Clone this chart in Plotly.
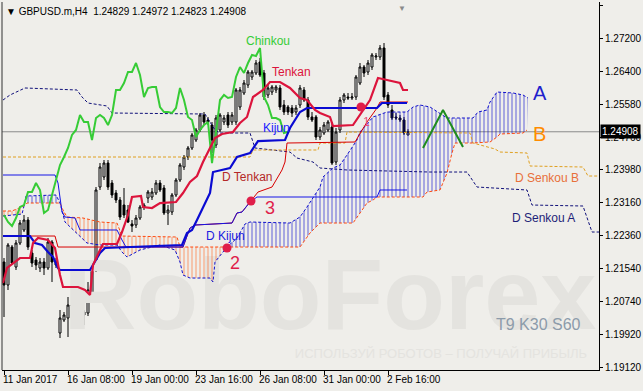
import plotly.graph_objects as go

# ---------------- data (GBPUSD.m H4) ----------------
bar_index = list(range(102))
opens = [1.21711,1.21146,1.22079,1.21588,1.22177,1.22497,1.22742,1.21932,1.21760,1.21564,
         1.21711,1.21564,1.22202,1.21711,1.19968,1.20287,1.20336,1.20631,1.20582,1.20729,
         1.20483,1.20459,1.20901,1.21515,1.23552,1.23798,1.24141,1.23650,1.23405,1.23233,
         1.23110,1.22988,1.22644,1.22619,1.22791,1.23061,1.23282,1.23307,1.23405,1.23650,
         1.23528,1.22914,1.22938,1.23356,1.23724,1.24043,1.24289,1.24510,1.24706,1.24952,
         1.25320,1.25197,1.25074,1.24583,1.24952,1.25148,1.25320,1.25148,1.25148,1.25516,
         1.25860,1.26056,1.26253,1.26351,1.26621,1.26351,1.25811,1.25884,1.25934,1.25983,
         1.25565,1.25516,1.25492,1.25393,1.25565,1.25934,1.25688,1.25271,1.25271,1.24780,
         1.24878,1.24952,1.25025,1.24166,1.24952,1.25688,1.25762,1.25737,1.25762,1.26105,
         1.26498,1.26375,1.26498,1.26744,1.26744,1.26965,1.25811,1.25443,1.25271,1.25246,
         1.25197,1.24829]
highs = [1.21809,1.22177,1.22128,1.22251,1.22742,1.22865,1.22816,1.22006,1.21834,1.21809,
         1.21809,1.22300,1.22251,1.21809,1.20533,1.20483,1.20852,1.20778,1.20827,1.20778,
         1.20533,1.21220,1.21711,1.23552,1.24141,1.24215,1.24215,1.23724,1.23479,1.23307,
         1.23528,1.23110,1.22742,1.22865,1.23110,1.23159,1.23479,1.23528,1.23724,1.23724,
         1.23601,1.23110,1.23405,1.23773,1.24141,1.24338,1.24559,1.24878,1.25001,1.25369,
         1.25393,1.25271,1.25148,1.25320,1.25369,1.25320,1.25393,1.25393,1.25983,1.26007,
         1.26179,1.26425,1.26425,1.26670,1.26719,1.26425,1.26056,1.26056,1.26056,1.26056,
         1.25688,1.25565,1.25565,1.25565,1.26056,1.26007,1.25762,1.25393,1.25320,1.25025,
         1.25148,1.25197,1.25148,1.25001,1.25762,1.25860,1.25860,1.25860,1.26302,1.26596,
         1.26547,1.26670,1.26842,1.26842,1.27038,1.27087,1.25884,1.25565,1.25369,1.25320,
         1.25271,1.24972]
lows = [1.20361,1.21024,1.21637,1.21515,1.22128,1.22447,1.22006,1.21588,1.21515,1.21465,
        1.21392,1.21515,1.21220,1.21564,1.19845,1.20238,1.19870,1.20533,1.20483,1.20336,
        1.20164,1.20385,1.20778,1.21465,1.23479,1.23724,1.23479,1.23282,1.23159,1.22742,
        1.22791,1.22668,1.22447,1.22546,1.22742,1.22988,1.23159,1.23233,1.23356,1.23429,
        1.22865,1.22619,1.22865,1.23307,1.23675,1.23970,1.24215,1.24461,1.24657,1.24902,
        1.25074,1.25074,1.24387,1.24510,1.24902,1.25074,1.25001,1.25074,1.25074,1.25443,
        1.25811,1.25983,1.26179,1.26302,1.26253,1.25688,1.25737,1.25811,1.25860,1.25443,
        1.25320,1.25320,1.25271,1.25320,1.25492,1.25639,1.25197,1.25148,1.24706,1.24706,
        1.24829,1.24902,1.24092,1.24092,1.24878,1.25614,1.25688,1.25688,1.25688,1.26056,
        1.26253,1.26302,1.26425,1.26670,1.26670,1.25688,1.25492,1.25197,1.25197,1.25148,
        1.24829,1.24823]
closes = [1.21146,1.22128,1.21686,1.22177,1.22668,1.22742,1.22079,1.21686,1.21637,1.21711,
          1.21564,1.22202,1.21711,1.21637,1.20336,1.20410,1.20655,1.20655,1.20729,1.20410,
          1.20410,1.21024,1.21637,1.23479,1.24043,1.24141,1.23552,1.23356,1.23233,1.22816,
          1.22865,1.22693,1.22595,1.22791,1.23061,1.23110,1.23429,1.23429,1.23650,1.23479,
          1.22914,1.22988,1.23356,1.23724,1.24092,1.24289,1.24510,1.24829,1.24952,1.25320,
          1.25148,1.25148,1.24706,1.25246,1.25320,1.25246,1.25074,1.25320,1.25934,1.25934,
          1.26105,1.26375,1.26375,1.26596,1.26302,1.25762,1.25983,1.26007,1.26007,1.25516,
          1.25393,1.25393,1.25369,1.25492,1.25983,1.25688,1.25271,1.25197,1.24780,1.24952,
          1.25074,1.25148,1.24141,1.24902,1.25688,1.25811,1.25737,1.25762,1.26253,1.26498,
          1.26351,1.26596,1.26793,1.26768,1.26965,1.25762,1.25565,1.25246,1.25246,1.25197,
          1.24878,1.24908]

tick_bars = [0, 16, 32, 48, 64, 80, 96]
tick_labels = ["11 Jan 2017", "16 Jan 08:00", "19 Jan 00:00", "23 Jan 16:00",
               "26 Jan 08:00", "31 Jan 00:00", "2 Feb 16:00"]
price_ticks = [1.28020, 1.27200, 1.26400, 1.25580, 1.24760, 1.23980,
               1.23160, 1.22360, 1.21540, 1.20740, 1.19920, 1.19120]

tenkan_x = [-0.25,0.75,4,6.5,7.25,8.5,11,12.75,14,14.75,18.5,20.25,21.5,22.25,24,24.75,28.25,29.5,31,32,
            34.25,34.75,37,39,43,44.75,46.5,48.25,49.75,51.5,52.75,54.5,57.25,59,60.75,62.25,64.75,66.5,69,71.5,
            74,75.75,77.75,79,81.5,82.25,87.25,91.5,93.5,95.75,99,99.75,101]
tenkan_y = [1.21195,1.21564,1.21809,1.21809,1.22177,1.22300,1.22251,1.22055,1.21392,1.21097,1.21097,1.21024,1.20901,1.21637,1.22006,1.22153,1.22153,1.22447,1.22865,1.23307,
            1.23331,1.23061,1.23037,1.23159,1.23184,1.23405,1.23675,1.23822,1.24166,1.24510,1.24755,1.24853,1.24902,1.25123,1.25271,1.25762,1.25934,1.26130,1.26130,1.25983,
            1.25737,1.25688,1.25443,1.25369,1.25271,1.25050,1.25074,1.25688,1.26228,1.26179,1.26105,1.25934,1.25934]

kijun_x = [-0.25,6.5,7.75,9.5,11,12.25,13.5,14,21.5,22.75,24,25.25,44.5,45.75,47,48.25,49.75,51.5,52.25,56.5,
           58.25,61.5,63.5,70.25,71.5,74,75.75,93.25,94.5,100.75]
kijun_y = [1.22349,1.22349,1.22177,1.22128,1.21956,1.21834,1.21564,1.21515,1.21515,1.21711,1.21932,1.22055,1.22128,1.22423,1.22497,1.22742,1.23061,1.23405,1.23920,1.24019,
           1.24289,1.24387,1.24681,1.24706,1.25001,1.25393,1.25492,1.25492,1.25614,1.25614]

d_tenkan_x = [-0.25,12.75,13.5,44.75,46.5,47.75,57,58.25,59.5,61.5,63.5,67,69.5,70.25,70.75,87.75,90.75,93.25,94,101]
d_tenkan_y = [1.22349,1.22349,1.22079,1.22079,1.22546,1.22619,1.22668,1.22914,1.22938,1.23184,1.23429,1.23552,1.23970,1.24166,1.24632,1.24657,1.25148,1.25492,1.25639,1.25639]

d_kijun_x = [-0.25,12.75,13.5,14.5,15.25,17.75,19,28.25,29.5,30.5,44.75,46.5,47.75,57,58.25,59.5,61.5,63.25,93.25,94,100.75]
d_kijun_y = [1.23847,1.23847,1.23650,1.22938,1.22816,1.22791,1.22497,1.22497,1.22251,1.22079,1.22079,1.22546,1.22619,1.22668,1.22914,1.22938,1.23184,1.23307,1.23307,1.23479,1.23479]

d_senkou_a_x = [-0.25,1.5,5.25,18.25,19.5,21,25.75,27,50.25,52.75,54,61.5,62.75,66.5,71.5,73.25,77.25,79,85.75,106.5,
                115.75,118.25,130.75,132,144.75,147,149]
d_senkou_a_y = [1.25688,1.25811,1.25983,1.25934,1.25762,1.25614,1.25541,1.25369,1.25344,1.24952,1.24878,1.24878,1.24510,1.24461,1.24411,1.24264,1.24166,1.24019,1.23970,1.23920,
                1.23920,1.23552,1.23479,1.23110,1.23086,1.22447,1.22447]

d_senkou_b_x = [-0.25,61.5,62.25,78.5,79,85.25,85.75,116.5,117.25,122.75,124,130.75,131.5,144.75,146,149]
d_senkou_b_y = [1.24289,1.24289,1.24461,1.24461,1.24632,1.24632,1.24902,1.24878,1.24632,1.24485,1.24411,1.24387,1.24068,1.24043,1.23822,1.23822]

senkou_a_x = [-0.25,4.5,5,5.5,13,14,15.25,17.75,20.75,24,28.25,29.5,30.75,34,39,42.75,44,44.75,46.5,51.5,
              52.25,52.75,55.75,58.25,60.25,61.5,71.5,74,75.75,79,79.75,82.25,84,85.75,88.25,89,92.25,95.75,100.75,102.25,
              104,106.5,110.75,117.25,118.5,120.75,121.5,123.25,127.25,129.75,131]
senkou_a_y = [1.22840,1.22889,1.23086,1.23331,1.23356,1.23159,1.22693,1.22447,1.22177,1.22128,1.22128,1.21956,1.21834,1.22006,1.22128,1.22006,1.21711,1.21392,1.21318,1.21318,
              1.21220,1.21711,1.22079,1.22300,1.22644,1.22693,1.22668,1.22816,1.23061,1.23552,1.23798,1.24019,1.24092,1.24338,1.24706,1.24902,1.25271,1.25393,1.25393,1.25516,
              1.25565,1.25516,1.25246,1.25246,1.25393,1.25443,1.25639,1.25884,1.25860,1.25811,1.25737]

senkou_b_x = [-0.25,2,5,5.75,14,14.75,15.75,19.75,24,28.25,29.5,43.25,44,55.75,74,76.5,79,87.25,89,90.75,
              92.25,93.25,104.75,105.75,109,110.75,112,112.75,117,121.5,123.25,124,129.75,130.75]
senkou_b_y = [1.22963,1.22963,1.23086,1.23159,1.23159,1.22988,1.22816,1.22791,1.22693,1.22668,1.22349,1.22325,1.22079,1.22079,1.22079,1.22423,1.22668,1.22668,1.22914,1.23159,
              1.23233,1.23307,1.23307,1.23429,1.23479,1.23896,1.24387,1.24632,1.24632,1.24657,1.24780,1.24853,1.24878,1.24952]

# kumo segments: (from bar, to bar, colour of hatching)
kumo_segments = [(-0.25, 5, "#FF6A2A"), (5, 14, "#1010CC"), (14, 55.75, "#FF6A2A"), (55.75, 131, "#1010CC")]

chinkou_shift = 30
signal_x = [89.25, 55.75, 61.75]
signal_y = [1.25516, 1.22055, 1.23208]
pattern_x = [104.75, 109.75, 114.75]
pattern_y = [1.24510, 1.25443, 1.24534]

FONT = "Liberation Sans, Arial, sans-serif"
BG = "#EFEEEA"

fig = go.Figure()

# watermark
fig.add_trace(go.Scatter(x=[81.5], y=[1.20692], mode="text", text=["<b>RoboForex</b>"],
                         textfont=dict(size=101, color="#E4E3DF", family=FONT),
                         hoverinfo="skip", showlegend=False))
fig.add_trace(go.Scatter(x=[109.25], y=[1.19428], mode="text",
                         text=["ИСПОЛЬЗУЙ РОБОТОВ – ПОЛУЧАЙ ПРИБЫЛЬ"],
                         textfont=dict(size=13, color="#E4E3DF", family=FONT),
                         hoverinfo="skip", showlegend=False))


def sub(xs, ys, a, b):
    px, py = [], []
    for x, y in zip(xs, ys):
        if a <= x <= b:
            px.append(x)
            py.append(y)
    return px, py


# kumo hatching
for a, b, col in kumo_segments:
    bx, by = sub(senkou_b_x, senkou_b_y, a, b)
    ax_, ay = sub(senkou_a_x, senkou_a_y, a, b)
    fig.add_trace(go.Scatter(x=bx, y=by, mode="lines", line=dict(width=0),
                             hoverinfo="skip", showlegend=False))
    fig.add_trace(go.Scatter(x=ax_, y=ay, mode="lines", line=dict(width=0),
                             fill="tonexty", fillcolor="rgba(0,0,0,0)",
                             fillpattern=dict(shape="|", fgcolor=col, bgcolor="rgba(0,0,0,0)",
                                              size=4, solidity=0.25, fgopacity=0.65),
                             hoverinfo="skip", showlegend=False))

# daily cloud lines
fig.add_trace(go.Scatter(x=d_senkou_a_x, y=d_senkou_a_y, mode="lines",
                         line=dict(color="#10107A", width=1, dash="3px,2px"),
                         hoverinfo="skip", showlegend=False))
fig.add_trace(go.Scatter(x=d_senkou_b_x, y=d_senkou_b_y, mode="lines",
                         line=dict(color="#E0A020", width=1, dash="3px,2px"),
                         hoverinfo="skip", showlegend=False))
# H4 senkou lines
fig.add_trace(go.Scatter(x=senkou_a_x, y=senkou_a_y, mode="lines",
                         line=dict(color="#1010CC", width=1, dash="3px,2px"),
                         hoverinfo="skip", showlegend=False))
fig.add_trace(go.Scatter(x=senkou_b_x, y=senkou_b_y, mode="lines",
                         line=dict(color="#FF4A10", width=1, dash="3px,2px"),
                         hoverinfo="skip", showlegend=False))
# daily tenkan / kijun
fig.add_trace(go.Scatter(x=d_tenkan_x, y=d_tenkan_y, mode="lines",
                         line=dict(color="#D80000", width=1),
                         hoverinfo="skip", showlegend=False))
fig.add_trace(go.Scatter(x=d_kijun_x, y=d_kijun_y, mode="lines",
                         line=dict(color="#1414E6", width=1),
                         hoverinfo="skip", showlegend=False))

# candles
fig.add_trace(go.Candlestick(x=bar_index, open=opens, high=highs, low=lows, close=closes,
                             increasing=dict(line=dict(color="black", width=1), fillcolor="white"),
                             decreasing=dict(line=dict(color="black", width=1), fillcolor="black"),
                             whiskerwidth=0, hoverinfo="skip", showlegend=False))

# chinkou = close shifted back
chinkou_x = [i - chinkou_shift for i in bar_index if i >= chinkou_shift]
chinkou_y = [c for i, c in zip(bar_index, closes) if i >= chinkou_shift]
fig.add_trace(go.Scatter(x=chinkou_x, y=chinkou_y, mode="lines",
                         line=dict(color="#36CC36", width=2),
                         hoverinfo="skip", showlegend=False))
fig.add_trace(go.Scatter(x=kijun_x, y=kijun_y, mode="lines",
                         line=dict(color="#0A0AD2", width=2.2),
                         hoverinfo="skip", showlegend=False))
fig.add_trace(go.Scatter(x=tenkan_x, y=tenkan_y, mode="lines",
                         line=dict(color="#DC143C", width=2.2),
                         hoverinfo="skip", showlegend=False))

# analyst drawing and signal points
fig.add_trace(go.Scatter(x=pattern_x, y=pattern_y, mode="lines",
                         line=dict(color="#1E8C1E", width=2),
                         hoverinfo="skip", showlegend=False))
fig.add_trace(go.Scatter(x=signal_x, y=signal_y, mode="markers",
                         marker=dict(color="#E01E4A", size=9),
                         hoverinfo="skip", showlegend=False))

last = closes[-1]
fig.add_shape(type="line", xref="paper", x0=0, x1=1, yref="y", y0=last, y1=last,
              line=dict(color="#8A8A8A", width=1), layer="below")
fig.add_shape(type="line", xref="paper", x0=0, x1=0, yref="paper", y0=0, y1=1,
              line=dict(color="#333333", width=1))

ann = []


def label(x, y, text, color, size):
    ann.append(dict(x=x, y=y, xref="x", yref="y", text=text, showarrow=False,
                    font=dict(color=color, size=size, family=FONT)))


label(66, 1.27137, "Chinkou", "#36CC36", 12)
label(71.75, 1.26375, "Tenkan", "#DC143C", 12)
label(68, 1.25001, "Kijun", "#2020FF", 12)
label(60.75, 1.23798, "D Tenkan", "#B42828", 12)
label(55.25, 1.22349, "D Kijun", "#2020E0", 12)
label(90.5, 1.25148, "1", "#E8507A", 12)
label(57.75, 1.21686, "2", "#E01E4A", 18)
label(66.5, 1.23037, "3", "#E01E4A", 18)
label(134, 1.25860, "A", "#1E1ECD", 20)
label(133.75, 1.24853, "B", "#FF8C00", 20)
label(135.75, 1.23773, "D Senkou B", "#E8703A", 12)
label(134.75, 1.22791, "D Senkou A", "#1E1E78", 12)
label(133.5, 1.20189, "T9 K30 S60", "#8C9BAA", 16)

for b, t in zip(tick_bars, tick_labels):
    ann.append(dict(x=b - 0.25, y=0, xref="x", yref="paper", text=t, showarrow=False,
                    xanchor="left", yanchor="top", yshift=-2, xshift=-2,
                    font=dict(color="black", size=10, family=FONT)))

ann.append(dict(x=0, y=1, xref="paper", yref="paper", xanchor="left", yanchor="top",
                xshift=2, yshift=-2, showarrow=False,
                text="▼ GBPUSD.m,H4  %.5f %.5f %.5f %.5f" % (opens[-1], highs[-1], lows[-1], closes[-1]),
                font=dict(color="black", size=10, family=FONT)))
ann.append(dict(x=99.5, y=1, xref="x", yref="paper", yanchor="top", showarrow=False,
                text="▼", font=dict(color="#8A8A8A", size=8, family=FONT)))
ann.append(dict(x=1, y=last, xref="paper", yref="y", xanchor="left", showarrow=False,
                text="%.5f" % last, bgcolor="black", borderpad=1, xshift=1,
                font=dict(color="white", size=10, family=FONT)))

fig.update_layout(
    width=643, height=391, autosize=False,
    margin=dict(l=2, r=44, t=2, b=21),
    paper_bgcolor=BG, plot_bgcolor=BG,
    showlegend=False,
    annotations=ann,
    font=dict(family=FONT, size=10, color="black"),
    xaxis=dict(range=[-0.5, 148.75], showgrid=False, zeroline=False, showline=True,
               linecolor="black", linewidth=1, ticks="outside", ticklen=4, tickcolor="black",
               tickvals=tick_bars, showticklabels=False, rangeslider=dict(visible=False),
               fixedrange=True),
    yaxis=dict(range=[1.19060, 1.28094], side="right", showgrid=False, zeroline=False,
               showline=True, linecolor="black", linewidth=1, ticks="outside", ticklen=3,
               tickcolor="black", tickvals=price_ticks,
               ticktext=["%.5f" % v for v in price_ticks],
               tickfont=dict(size=10, family=FONT, color="black"), fixedrange=True),
)

fig.write_html("out.html")
